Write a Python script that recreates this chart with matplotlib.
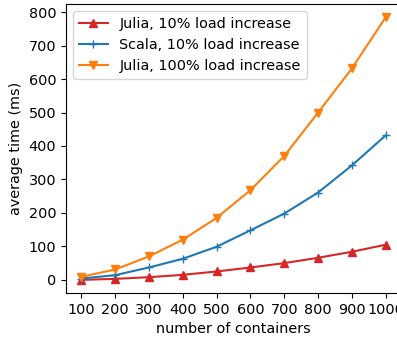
import matplotlib
matplotlib.use("Agg")
import matplotlib.pyplot as plt

containers = [100, 200, 300, 400, 500, 600, 700, 800, 900, 1000]
julia_10 = [0, 3, 8, 15, 25, 37, 50, 66, 84, 105]
scala_10 = [4, 14, 37, 63, 99, 148, 198, 261, 342, 432]
julia_100 = [9, 31, 70, 120, 185, 268, 370, 500, 632, 785]

plt.rcParams['font.size'] = 10.4

fig = plt.figure(figsize=(3.97, 3.41), dpi=100)
ax = fig.add_axes([66 / 397, 48 / 341, 335 / 397, 289 / 341])

ax.plot(containers, julia_10, marker='^', color='tab:red', label='Julia, 10% load increase')
ax.plot(containers, scala_10, marker='+', color='tab:blue', label='Scala, 10% load increase')
ax.plot(containers, julia_100, marker='v', color='tab:orange', label='Julia, 100% load increase')

ax.set_xticks(containers)
ax.set_xlabel('number of containers')
ax.set_ylabel('average time (ms)')
ax.legend(loc='upper left')

fig.savefig('out.png', dpi=100)
